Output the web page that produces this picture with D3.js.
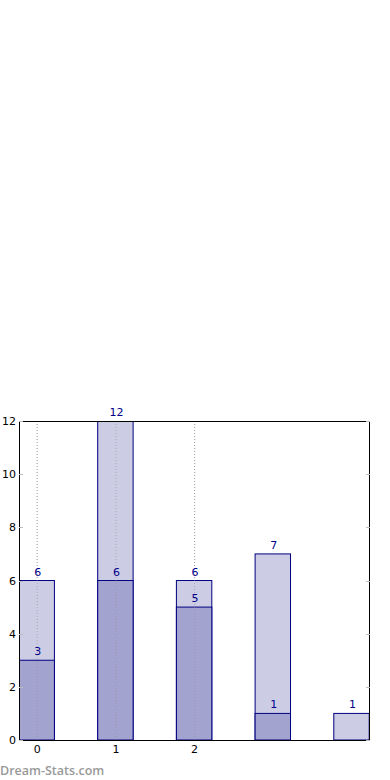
<!DOCTYPE html>
<html>
<head>
<meta charset="utf-8">
<script src="https://cdn.jsdelivr.net/npm/d3@7"></script>
<style>
  body { margin: 0; background: #fff; }
  svg { display: block; font-family: "DejaVu Sans", sans-serif; }
</style>
</head>
<body>
<svg id="chart" width="390" height="780"></svg>
<script>
const categories = [0, 1, 2, 3, 4];
const totalValues = [6, 12, 6, 7, 1];
const lowerValues = [3, 6, 5, 1, 0];
const xTickLabels = ["0", "1", "2"];
const yTicks = [0, 2, 4, 6, 8, 10, 12];

const margin = {top: 421, right: 20, bottom: 40, left: 19};
const width = 390, height = 780;
const svg = d3.select("#chart");

const x = d3.scaleLinear().domain([-0.225, 4.235]).range([margin.left, width - margin.right]);
const y = d3.scaleLinear().domain([0, 12]).range([height - margin.bottom, margin.top]);
const barW = 0.45;

svg.append("clipPath").attr("id", "plotclip")
    .append("rect")
    .attr("x", x.range()[0]).attr("y", y.range()[1])
    .attr("width", x.range()[1] - x.range()[0])
    .attr("height", y.range()[0] - y.range()[1]);

// vertical dotted grid at labelled ticks
svg.append("g").selectAll("line")
    .data(xTickLabels.map(Number))
    .join("line")
    .attr("x1", d => x(d) + 0.5).attr("x2", d => x(d) + 0.5)
    .attr("y1", y(0)).attr("y2", y(12))
    .attr("stroke", "#bbb")
    .attr("stroke-width", 1)
    .attr("stroke-dasharray", "1,2");

const plot = svg.append("g").attr("clip-path", "url(#plotclip)");

plot.selectAll("rect.total")
    .data(categories)
    .join("rect")
    .attr("class", "total")
    .attr("x", d => x(d - barW / 2))
    .attr("width", d => x(barW) - x(0))
    .attr("y", (d, i) => y(totalValues[i]))
    .attr("height", (d, i) => y(0) - y(totalValues[i]))
    .attr("fill", "#ccccE5")
    .attr("stroke", "#000080")
    .attr("stroke-width", 1);

plot.selectAll("rect.lower")
    .data(categories.filter((d, i) => lowerValues[i] > 0))
    .join("rect")
    .attr("class", "lower")
    .attr("x", d => x(d - barW / 2))
    .attr("width", d => x(barW) - x(0))
    .attr("y", d => y(lowerValues[d]))
    .attr("height", d => y(0) - y(lowerValues[d]))
    .attr("fill", "#a3a3cf")
    .attr("stroke", "#000080")
    .attr("stroke-width", 1);

// grid dots drawn over bars too
plot.append("g").selectAll("line")
    .data(xTickLabels.map(Number))
    .join("line")
    .attr("x1", d => x(d) + 0.5).attr("x2", d => x(d) + 0.5)
    .attr("y1", y(0)).attr("y2", y(12))
    .attr("stroke", "#888")
    .attr("stroke-opacity", 0.5)
    .attr("stroke-dasharray", "1,2");

// value labels
svg.append("g").selectAll("text.tl")
    .data(categories)
    .join("text")
    .attr("x", d => x(d) + 1)
    .attr("y", (d, i) => y(totalValues[i]) - 5)
    .attr("text-anchor", "middle")
    .attr("font-size", 11)
    .attr("fill", "#00008B")
    .text((d, i) => totalValues[i]);

svg.append("g").selectAll("text.ll")
    .data(categories.filter((d, i) => lowerValues[i] > 0))
    .join("text")
    .attr("x", d => x(d) + 1)
    .attr("y", d => y(lowerValues[d]) - 5)
    .attr("text-anchor", "middle")
    .attr("font-size", 11)
    .attr("fill", "#00008B")
    .text(d => lowerValues[d]);

// frame
svg.append("rect")
    .attr("x", x.range()[0] + 0.5).attr("y", y(12) + 0.5)
    .attr("width", x.range()[1] - x.range()[0] - 1)
    .attr("height", y(0) - y(12))
    .attr("fill", "none")
    .attr("stroke", "#000")
    .attr("stroke-width", 1);

// y ticks (inside, both sides)
const yt = svg.append("g");
yt.selectAll("line.l").data(yTicks).join("line")
    .attr("x1", x.range()[0]).attr("x2", x.range()[0] + 4)
    .attr("y1", d => Math.round(y(d)) + 0.5).attr("y2", d => Math.round(y(d)) + 0.5)
    .attr("stroke", "#bbb");
yt.selectAll("line.r").data(yTicks).join("line")
    .attr("x1", x.range()[1] - 4).attr("x2", x.range()[1])
    .attr("y1", d => Math.round(y(d)) + 0.5).attr("y2", d => Math.round(y(d)) + 0.5)
    .attr("stroke", "#bbb");
yt.selectAll("text").data(yTicks).join("text")
    .attr("x", x.range()[0] - 3)
    .attr("y", d => y(d) + 4)
    .attr("text-anchor", "end")
    .attr("font-size", 11)
    .attr("fill", "#000")
    .text(d => d);

// x tick labels
svg.append("g").selectAll("text")
    .data(xTickLabels)
    .join("text")
    .attr("x", d => x(+d) + 0.5)
    .attr("y", y(0) + 13)
    .attr("text-anchor", "middle")
    .attr("font-size", 11)
    .attr("fill", "#000")
    .text(d => d);

// watermark
svg.append("text")
    .attr("x", 0).attr("y", 775)
    .attr("font-family", "'Open Sans', sans-serif")
    .attr("font-size", 12.5)
    .attr("font-weight", 600)
    .attr("fill", "#999")
    .text("Dream-Stats.com");
</script>
</body>
</html>
